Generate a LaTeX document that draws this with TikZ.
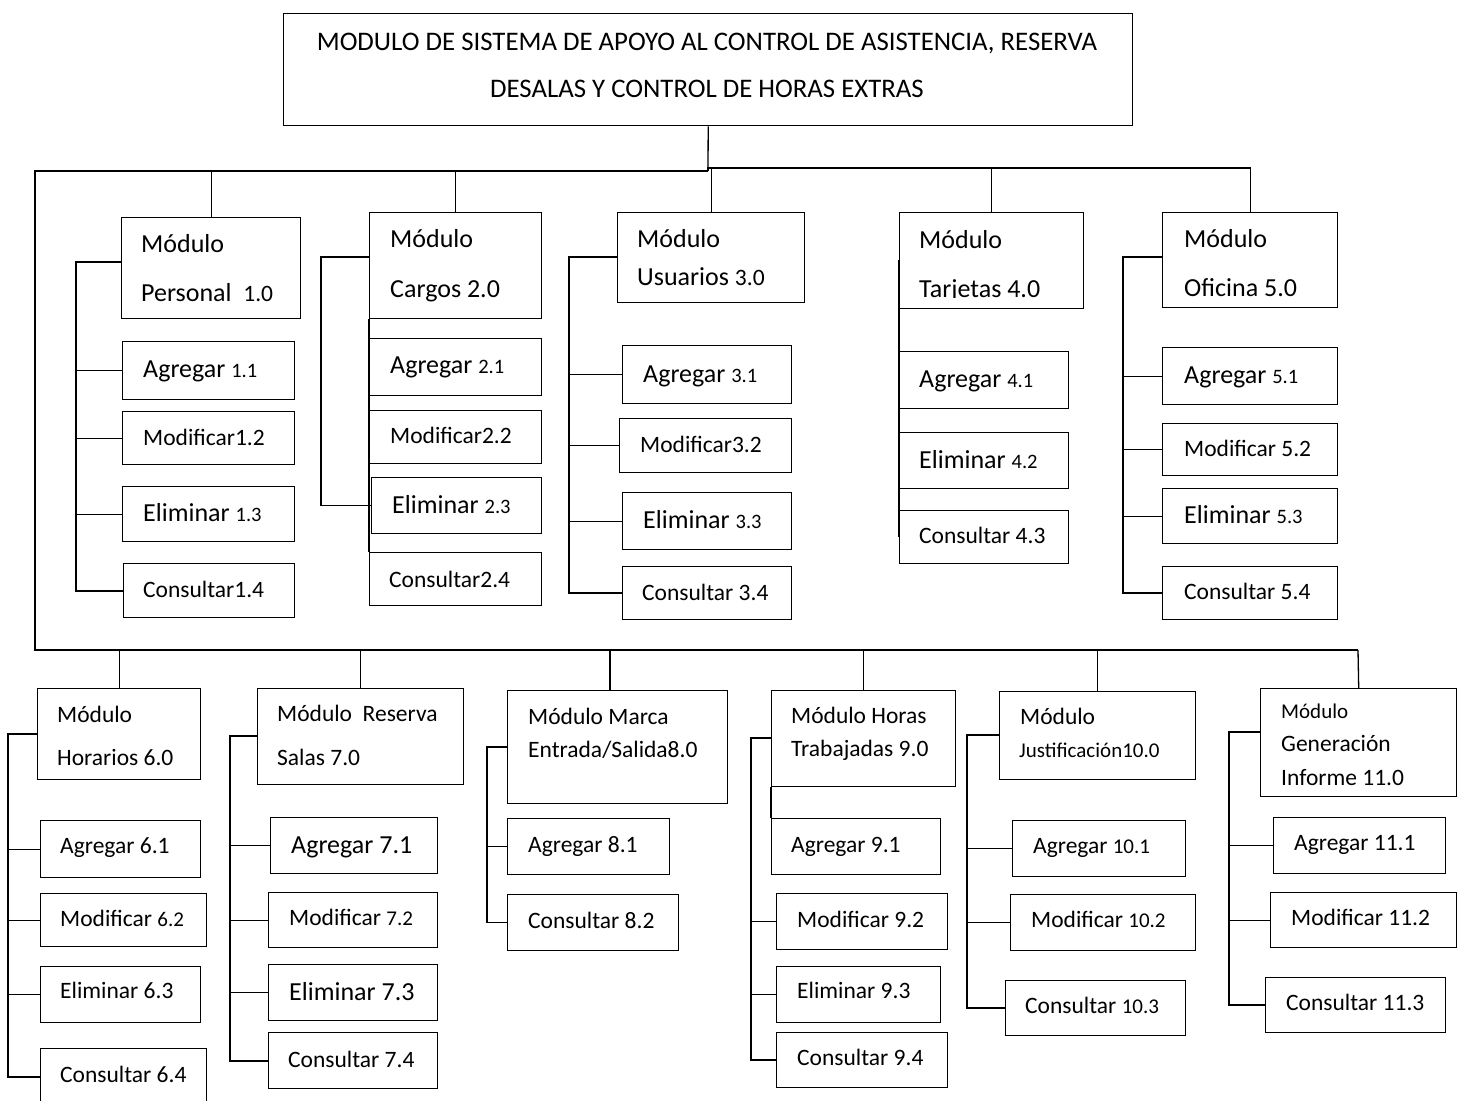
\documentclass[tikz,border=0pt]{standalone}
\usepackage{fontspec}
\setmainfont{Carlito}
\newcommand\fT{\fontsize{26.8}{31}\selectfont}
\newcommand\fB{\fontsize{26}{30}\selectfont}
\newcommand\fM{\fontsize{23.5}{28}\selectfont}
\newcommand\fS{\fontsize{21}{25}\selectfont}
\newcommand\fN{\fontsize{20.5}{24}\selectfont}
\newcommand\bx[5]{\node[bx, minimum width={(#4)-(#2)}, minimum height={(#5)-(#3)}] (#1) at (#2,#3) {};}
\newcommand\tx[4]{\node[tx] (#1) at (#2,#3) {#4};}
\begin{document}
\begin{tikzpicture}[x=1pt,y=-1pt,
  bx/.style={draw, line width=1.4pt, inner sep=0pt, anchor=north west},
  tx/.style={anchor=base west, inner sep=0pt},
  ln/.style={line width=1.3pt},
  sp/.style={line width=1.8pt},
  frame/.style={line width=2.6pt}]
\useasboundingbox (0,0) rectangle (1469,1100);
% ---------- boxes ----------
\bx{title}{283}{13}{1132}{125}
\bx{p1}{121}{217}{300}{318}
\bx{a11}{122}{341}{294}{399}
\bx{m12}{122}{411}{294}{464}
\bx{e13}{122}{486}{294}{541}
\bx{c14}{123}{563}{294}{617}
\bx{p2}{369}{212}{541}{318}
\bx{a21}{369}{338}{541}{395}
\bx{m22}{369}{410}{541}{463}
\bx{e23}{371}{477}{541}{533}
\bx{c24}{369}{552}{541}{605}
\bx{p3}{617}{212}{804}{302}
\bx{a31}{622}{345}{791}{403}
\bx{m32}{619}{418}{791}{472}
\bx{e33}{622}{492}{791}{549}
\bx{c34}{622}{566}{791}{619}
\bx{p4}{899}{212}{1083}{308}
\bx{a41}{899}{351}{1068}{408}
\bx{e42}{899}{432}{1068}{488}
\bx{c43}{899}{510}{1068}{563}
\bx{p5}{1162}{212}{1337}{307}
\bx{a51}{1162}{347}{1337}{404}
\bx{m52}{1162}{423}{1337}{475}
\bx{e53}{1162}{488}{1337}{543}
\bx{c54}{1162}{566}{1337}{619}
\bx{p6}{37}{688}{200}{779}
\bx{a61}{40}{820}{200}{877}
\bx{m62}{40}{893}{206}{946}
\bx{e63}{40}{966}{200}{1022}
\bx{c64}{40}{1048}{206}{1104}
\bx{p7}{257}{688}{463}{784}
\bx{a71}{270}{817}{437}{873}
\bx{m72}{268}{892}{437}{947}
\bx{e73}{268}{964}{437}{1020}
\bx{c74}{268}{1032}{437}{1088}
\bx{p8}{507}{690}{727}{803}
\bx{a81}{507}{818}{669}{874}
\bx{c82}{507}{894}{678}{950}
\bx{p9}{771}{690}{955}{786}
\bx{a91}{771}{818}{940}{874}
\bx{m92}{776}{893}{947}{949}
\bx{e93}{776}{966}{940}{1022}
\bx{c94}{776}{1032}{947}{1087}
\bx{p10}{999}{691}{1195}{779}
\bx{a101}{1012}{820}{1185}{876}
\bx{m102}{1010}{894}{1195}{950}
\bx{c103}{1005}{980}{1185}{1035}
\bx{p11}{1260}{688}{1456}{796}
\bx{a111}{1273}{817}{1445}{873}
\bx{m112}{1270}{892}{1456}{947}
\bx{c113}{1265}{977}{1445}{1032}
% ---------- main connectors ----------
\coordinate (hub) at (708,171);
\coordinate (hubr) at (708,168);
\coordinate (tlc) at (35,171);
\coordinate (blc) at (35,650);
\coordinate (brc) at (1358,650);
\draw[ln] (title.south) -- (hub);
\draw[ln] (hub) -- (p1.north |- hub);
\draw[frame] (p1.north |- hub) -- (tlc) -- (blc) -- (brc);
\draw[ln] (brc) -- (p11.north);
\draw[ln] (hub) -- (hubr) -- (p5.north |- hubr) -- (p5.north);
\draw[ln] (p1.north |- hub) -- (p1.north);
\draw[ln] (p2.north |- hub) -- (p2.north);
\draw[ln] (p3.north |- hubr) -- (p3.north);
\draw[ln] (p4.north |- hubr) -- (p4.north);
\draw[ln] (p6.north |- brc) -- (p6.north);
\draw[ln] (p7.north |- brc) -- (p7.north);
\coordinate (v8) at (610,650);
\draw[ln] (v8) -- (v8 |- p8.north);
\draw[ln] (p9.north |- brc) -- (p9.north);
\draw[ln] (p10.north |- brc) -- (p10.north);
% ---------- spines ----------
\coordinate (s1) at (76,262);
\draw[sp] (p1.west |- s1) -- (s1) |- (c14.west);
\foreach \c in {a11,m12,e13} \draw[ln] (s1 |- \c.west) -- (\c.west);
\coordinate (s2) at (321,257);
\draw[ln] (p2.west |- s2) -- (s2) |- (e23.west);
\draw[ln] (p2.south west) -- (c24.north west);
\coordinate (s3) at (569,257);
\draw[sp] (p3.west |- s3) -- (s3) |- (c34.west);
\foreach \c in {a31,m32,e33} \draw[ln] (s3 |- \c.west) -- (\c.west);
\coordinate (s4a) at (899,260);
\coordinate (s4b) at (899,537);
\draw[sp] (s4a) -- (s4b);
\coordinate (s5) at (1123,257);
\draw[sp] (p5.west |- s5) -- (s5) |- (c54.west);
\foreach \c in {a51,m52,e53} \draw[ln] (s5 |- \c.west) -- (\c.west);
\coordinate (s6) at (8,734);
\draw[sp] (p6.west |- s6) -- (s6) |- (c64.west);
\foreach \c in {a61,m62,e63} \draw[ln] (s6 |- \c.west) -- (\c.west);
\coordinate (s7) at (230,736);
\draw[sp] (p7.west |- s7) -- (s7) |- (c74.west);
\foreach \c in {a71,m72,e73} \draw[ln] (s7 |- \c.west) -- (\c.west);
\coordinate (s8) at (487,747);
\draw[ln] (p8.west |- s8) -- (s8) |- (c82.west);
\draw[ln] (s8 |- a81.west) -- (a81.west);
\coordinate (s9) at (751,738);
\draw[sp] (p9.west |- s9) -- (s9) |- (c94.west);
\foreach \c in {m92,e93} \draw[ln] (s9 |- \c.west) -- (\c.west);
\draw[ln] (p9.south west) -- (a91.north west);
\coordinate (s10) at (967,735);
\draw[sp] (p10.west |- s10) -- (s10) |- (c103.west);
\foreach \c in {a101,m102} \draw[ln] (s10 |- \c.west) -- (\c.west);
\coordinate (s11) at (1229,732);
\draw[sp] (p11.west |- s11) -- (s11) |- (c113.west);
\foreach \c in {a111,m112} \draw[ln] (s11 |- \c.west) -- (\c.west);
% ---------- texts ----------
\node[anchor=base, inner sep=0pt] (tt1) at (707,50) {\fT MODULO DE SISTEMA DE APOYO AL CONTROL DE ASISTENCIA, RESERVA};
\node[anchor=base, inner sep=0pt] (tt2) at (707,97) {\fT DESALAS Y CONTROL DE HORAS EXTRAS};
\tx{t1a}{141}{252}{\fB Módulo}
\tx{t1b}{141}{301}{\fB Personal\ \ {\fM 1.0}}
\tx{ta11}{143}{377}{\fB Agregar {\fN 1.1}}
\tx{tm12}{143}{445}{\fM Modificar1.2}
\tx{te13}{143}{521}{\fB Eliminar {\fN 1.3}}
\tx{tc14}{143}{597}{\fM Consultar1.4}
\tx{t2a}{390}{247}{\fB Módulo}
\tx{t2b}{390}{297}{\fB Cargos 2.0}
\tx{ta21}{390}{373}{\fB Agregar {\fN 2.1}}
\tx{tm22}{390}{443}{\fM Modificar2.2}
\tx{te23}{392}{513}{\fB Eliminar {\fN 2.3}}
\tx{tc24}{389}{587}{\fM Consultar2.4}
\tx{t3a}{637}{247}{\fB Módulo}
\tx{t3b}{637}{285}{\fB Usuarios {\fM 3.0}}
\tx{ta31}{643}{382}{\fB Agregar {\fN 3.1}}
\tx{tm32}{640}{452}{\fM Modificar3.2}
\tx{te33}{643}{528}{\fB Eliminar {\fN 3.3}}
\tx{tc34}{642}{600}{\fM Consultar 3.4}
\tx{t4a}{919}{248}{\fB Módulo}
\begin{scope}
\clip (899,212) rectangle (1083,297.8);
\tx{t4b}{919}{297}{\fB Tarjetas 4.0}
\end{scope}
\tx{ta41}{919}{387}{\fB Agregar {\fN 4.1}}
\tx{te42}{919}{468}{\fB Eliminar {\fN 4.2}}
\tx{tc43}{919}{543}{\fM Consultar 4.3}
\tx{t5a}{1184}{247}{\fB Módulo}
\tx{t5b}{1184}{296}{\fB Oficina 5.0}
\tx{ta51}{1184}{383}{\fB Agregar {\fN 5.1}}
\tx{tm52}{1184}{456}{\fM Modificar 5.2}
\tx{te53}{1184}{523}{\fB Eliminar {\fN 5.3}}
\tx{tc54}{1184}{599}{\fM Consultar 5.4}
\tx{t6a}{57}{722}{\fM Módulo}
\tx{t6b}{57}{765}{\fM Horarios 6.0}
\tx{ta61}{60}{853}{\fM Agregar 6.1}
\tx{tm62}{60}{926}{\fM Modificar {\fS 6.2}}
\tx{te63}{60}{998}{\fM Eliminar 6.3}
\tx{tc64}{60}{1082}{\fM Consultar 6.4}
\tx{t7a}{277}{721}{\fM Módulo\ \ Reserva}
\tx{t7b}{277}{765}{\fM Salas 7.0}
\tx{ta71}{291}{853}{\fB Agregar 7.1}
\tx{tm72}{289}{925}{\fM Modificar {\fS 7.2}}
\tx{te73}{289}{1000}{\fB Eliminar 7.3}
\tx{tc74}{288}{1067}{\fM Consultar 7.4}
\tx{t8a}{528}{724}{\fM Módulo Marca}
\tx{t8b}{528}{757}{\fM Entrada/Salida8.0}
\tx{ta81}{528}{852}{\fM Agregar 8.1}
\tx{tc82}{528}{928}{\fM Consultar 8.2}
\tx{t9a}{791}{723}{\fM Módulo Horas}
\tx{t9b}{791}{756}{\fM Trabajadas 9.0}
\tx{ta91}{791}{852}{\fM Agregar 9.1}
\tx{tm92}{797}{927}{\fM Modificar 9.2}
\tx{te93}{797}{998}{\fM Eliminar 9.3}
\tx{tc94}{797}{1065}{\fM Consultar 9.4}
\tx{t10a}{1020}{724}{\fM Módulo}
\tx{t10b}{1019}{757}{\fS Justificación10.0}
\tx{ta101}{1033}{853}{\fM Agregar {\fS 10.1}}
\tx{tm102}{1031}{927}{\fM Modificar {\fS 10.2}}
\tx{tc103}{1025}{1013}{\fM Consultar {\fS 10.3}}
\tx{t11a}{1281}{718}{\fS Módulo}
\tx{t11b}{1281}{751}{\fM Generación}
\tx{t11c}{1281}{785}{\fM Informe 11.0}
\tx{ta111}{1294}{850}{\fM Agregar 11.1}
\tx{tm112}{1291}{925}{\fM Modificar 11.2}
\tx{tc113}{1286}{1010}{\fM Consultar 11.3}
\end{tikzpicture}
\end{document}
